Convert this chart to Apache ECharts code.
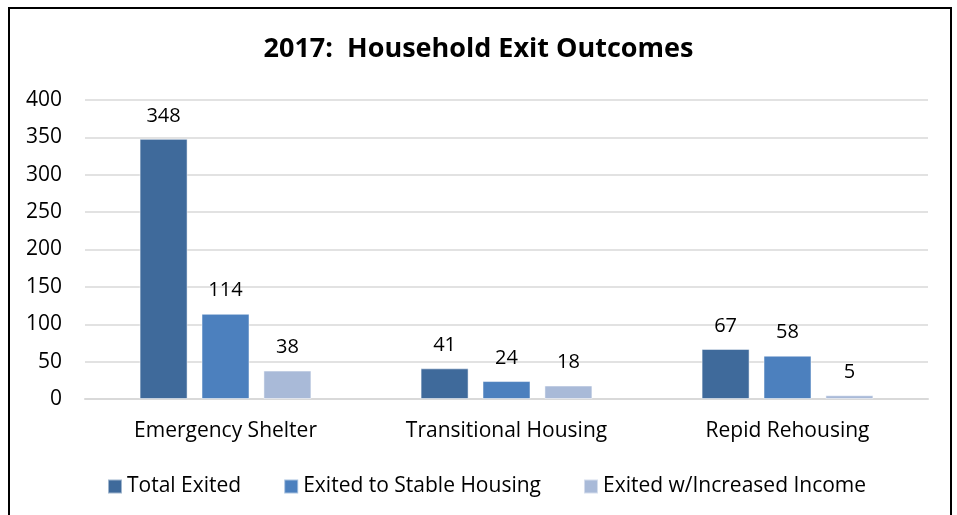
<!DOCTYPE html>
<html>
<head>
<meta charset="utf-8">
<script src="https://cdn.jsdelivr.net/npm/echarts@6/dist/echarts.min.js"></script>
<style>html,body{margin:0;padding:0;background:#fff}#c{width:957px;height:515px}</style>
</head>
<body>
<div id="c"></div>
<script>
const categories = ["Emergency Shelter", "Transitional Housing", "Repid Rehousing"];
const seriesNames = ["Total Exited", "Exited to Stable Housing", "Exited w/Increased Income"];
const totalExited = [348, 41, 67];
const stableHousing = [114, 24, 58];
const increasedIncome = [38, 18, 5];
const colors = ["#3F6A9B", "#4C80BE", "#A9BAD8"];
const FONT = "Open Sans";

const chart = echarts.init(document.getElementById('c'));
const mk = (name, data, color) => ({
  name, type: 'bar', data, barWidth: 48, barGap: '29%',
  itemStyle: { color, borderColor: 'rgba(255,255,255,0.5)', borderWidth: 1 },
  label: { show: true, position: 'top', distance: 13, color: '#000', fontSize: 20, fontFamily: FONT }
});
chart.setOption({
  animation: false,
  backgroundColor: '#fff',
  textStyle: { fontFamily: FONT },
  title: { text: '2017:  Household Exit Outcomes', left: 'center', top: 31,
    textStyle: { fontSize: 27, fontWeight: 'bold', color: '#000', fontFamily: FONT } },
  graphic: [{ type: 'rect', shape: { x: 9, y: 8, width: 942, height: 520 },
    style: { fill: 'none', stroke: '#000', lineWidth: 2 }, silent: true }],
  legend: { data: seriesNames, left: 102, top: 471, itemWidth: 14, itemHeight: 14, itemGap: 42,
    textStyle: { fontSize: 21, color: '#000', fontFamily: FONT } , icon: 'rect'},
  grid: { left: 85, right: 29, top: 100, bottom: 116, containLabel: false },
  xAxis: { type: 'category', data: categories,
    axisLine: { lineStyle: { color: '#D9D9D9', width: 2 } }, axisTick: { show: false },
    axisLabel: { fontSize: 21, color: '#000', margin: 22, fontFamily: FONT } },
  yAxis: { type: 'value', min: 0, max: 400, interval: 50,
    axisLine: { show: false }, axisTick: { show: false },
    splitLine: { lineStyle: { color: '#D9D9D9', width: 1.5 } },
    axisLabel: { fontSize: 21, color: '#000', margin: 23, fontFamily: FONT } },
  series: [mk(seriesNames[0], totalExited, colors[0]), mk(seriesNames[1], stableHousing, colors[1]), mk(seriesNames[2], increasedIncome, colors[2])]
});
</script>
</body>
</html>
